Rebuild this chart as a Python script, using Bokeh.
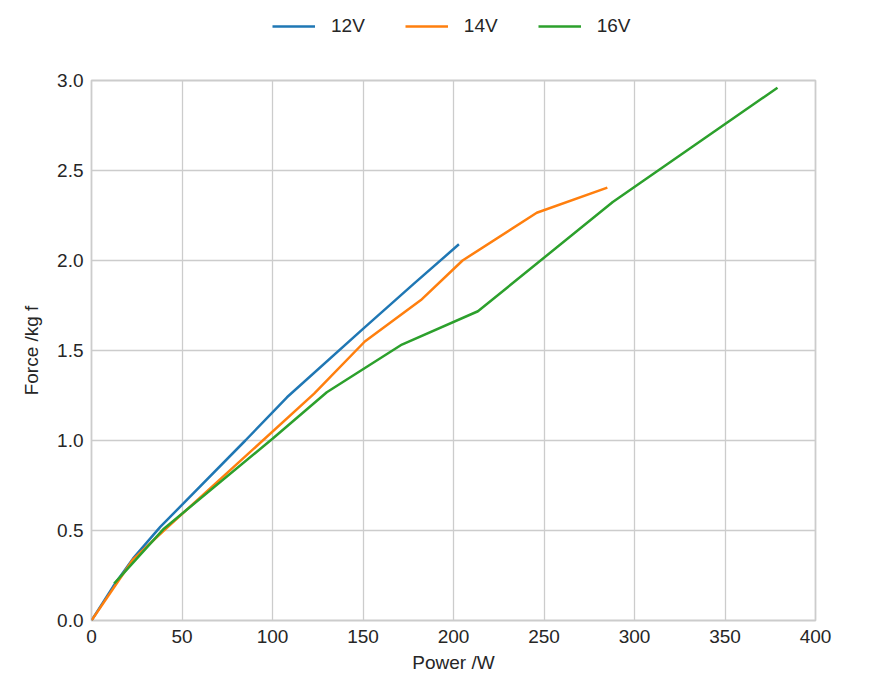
from bokeh.plotting import figure
from bokeh.layouts import column
from bokeh.models import Legend, LegendItem, FixedTicker, NumeralTickFormatter, Range1d
from bokeh.embed import file_html
from bokeh.resources import INLINE

# Data
power_12v = [0, 12, 23, 38, 85, 108, 150, 178, 203]
force_12v = [0, 0.19, 0.345, 0.52, 1.0, 1.24, 1.62, 1.87, 2.09]

power_14v = [0, 23, 40, 123, 151, 182, 205, 246, 285]
force_14v = [0, 0.34, 0.50, 1.26, 1.55, 1.78, 2.0, 2.265, 2.405]

power_16v = [12.5, 40, 100, 130, 171.5, 213.5, 288, 379]
force_16v = [0.205, 0.51, 1.01, 1.268, 1.533, 1.718, 2.325, 2.96]

series_labels = ["12V", "14V", "16V"]
series_colors = ["#1f77b4", "#ff7f0e", "#2ca02c"]

x_ticks = [0, 50, 100, 150, 200, 250, 300, 350, 400]
y_ticks = [0.0, 0.5, 1.0, 1.5, 2.0, 2.5, 3.0]

FONT = "Liberation Sans"
TXT = "#262626"
GRID = "#cccccc"

TOTAL_W = 863
LEG_H = 60

series_x = [power_12v, power_14v, power_16v]
series_y = [force_12v, force_14v, force_16v]

# ---- legend strip (separate figure above the chart) ----
lf = figure(width=TOTAL_W, height=LEG_H, output_backend="svg", toolbar_location=None,
            x_range=Range1d(0, 400), y_range=Range1d(0, 3),
            x_axis_type=None, y_axis_type=None)
lf.min_border = 0
lf.outline_line_color = None
lf.xgrid.visible = False
lf.ygrid.visible = False
leg_renderers = []
for xs, ys, c in zip(series_x, series_y, series_colors):
    r = lf.line(xs, ys, line_color=c, line_width=2.7)
    r.visible = False  # only used for the legend swatches
    leg_renderers.append(r)

legend = Legend(items=[LegendItem(label=l, renderers=[r]) for l, r in zip(series_labels, leg_renderers)],
                orientation="horizontal", location=(181, 23))
legend.padding = 0
legend.margin = 0
legend.border_line_color = None
legend.background_fill_alpha = 0
legend.inactive_fill_alpha = 0
legend.glyph_width = 43
legend.glyph_height = 20
legend.label_height = 20
legend.label_standoff = 16
legend.spacing = 40
legend.label_text_font = FONT
legend.label_text_font_size = "19px"
legend.label_text_color = TXT
legend.click_policy = "none"
lf.add_layout(legend)

# ---- main chart ----
p = figure(width=TOTAL_W, height=683 - LEG_H, output_backend="svg", toolbar_location=None,
           x_range=Range1d(0, 400), y_range=Range1d(0, 3))
p.min_border_left = 91
p.min_border_right = 48
p.min_border_top = 80 - LEG_H
p.min_border_bottom = 63
p.background_fill_color = "white"
p.border_fill_color = "white"
p.outline_line_color = GRID
p.outline_line_width = 1.8

for xs, ys, c in zip(series_x, series_y, series_colors):
    p.line(xs, ys, line_color=c, line_width=2.5)

for ax in (p.xaxis[0], p.yaxis[0]):
    ax.axis_line_color = None
    ax.major_tick_line_color = None
    ax.minor_tick_line_color = None
    ax.major_tick_out = 0
    ax.major_tick_in = 0
    ax.major_label_text_font = FONT
    ax.major_label_text_font_size = "19px"
    ax.major_label_text_color = TXT
    ax.axis_label_text_font = FONT
    ax.axis_label_text_font_size = "19px"
    ax.axis_label_text_color = TXT
    ax.axis_label_text_font_style = "normal"

p.xaxis.ticker = FixedTicker(ticks=x_ticks)
p.yaxis.ticker = FixedTicker(ticks=y_ticks)
p.yaxis.formatter = NumeralTickFormatter(format="0.0")
p.xaxis.major_label_standoff = 9
p.yaxis.major_label_standoff = 8
p.xaxis.axis_label = "Power /W"
p.yaxis.axis_label = "Force /kg f"
p.xaxis.axis_label_standoff = 6
p.yaxis.axis_label_standoff = 12

p.xgrid.grid_line_color = GRID
p.ygrid.grid_line_color = GRID
p.xgrid.grid_line_width = 1.3
p.ygrid.grid_line_width = 1.3

layout = column(lf, p, spacing=0)
open("out.html", "w").write(file_html(layout, INLINE))
